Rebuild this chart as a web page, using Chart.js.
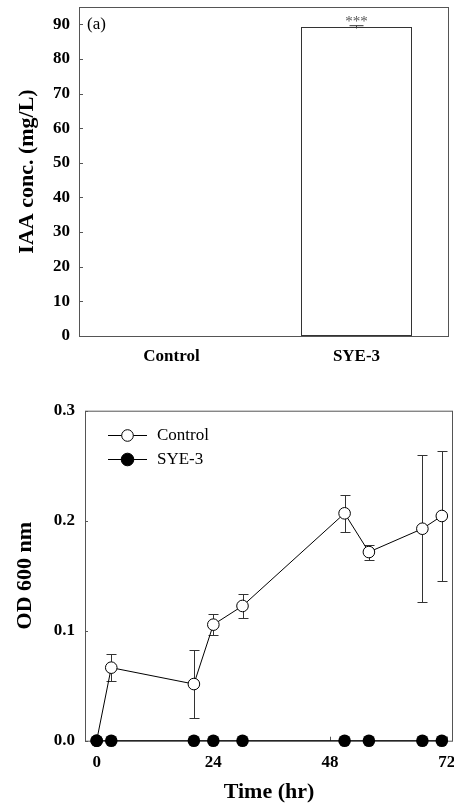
<!DOCTYPE html>
<html>
<head>
<meta charset="utf-8">
<script src="https://cdn.jsdelivr.net/npm/chart.js@4.4.0/dist/chart.umd.min.js"></script>
<style>
  body { margin: 0; background: #fff; }
  #wrapA { position: absolute; left: 0; top: 0; }
  #wrapB { position: absolute; left: 0; top: 390px; }
</style>
</head>
<body>
<div id="wrapA"><canvas id="iaaChart" width="454" height="390"></canvas></div>
<div id="wrapB"><canvas id="odChart" width="454" height="413"></canvas></div>
<script>
// (a) IAA production
const iaaCategories = ['Control', 'SYE-3'];
const iaaValues = [0, 89.2];
const iaaErrors = [0, 0.4];
const iaaYTicks = [0, 10, 20, 30, 40, 50, 60, 70, 80, 90];

// growth curve
const timeHours = [0, 3, 20, 24, 30, 51, 56, 67, 71];
const controlOD = [0, 0.0664, 0.0515, 0.1055, 0.1225, 0.2067, 0.1715, 0.1927, 0.2043];
const controlErr = [0, 0.0125, 0.031, 0.0098, 0.011, 0.017, 0.0068, 0.067, 0.0587];
const sye3OD = [0, 0, 0, 0, 0, 0, 0, 0, 0];
const timeTicks = [0, 24, 48, 72];
const odTicks = [0, 0.1, 0.2, 0.3];

const SERIF = "'Liberation Serif', 'Times New Roman', serif";
const tickFont = { family: SERIF, size: 17, weight: 'bold' };
const titleFont = { family: SERIF, size: 22, weight: 'bold' };
const AXIS = '#555';

// keep chart.js from reserving extra room for edge labels
function noEdgePad(s) {
    s.paddingLeft = 0; s.paddingRight = 0;
    s.paddingTop = 0; s.paddingBottom = 0;
}

function drawBox(chart) {
    const { ctx, chartArea: a } = chart;
    ctx.save();
    ctx.strokeStyle = AXIS;
    ctx.lineWidth = 1;
    ctx.strokeRect(a.left + 0.5, a.top + 0.5, a.right - a.left - 1, a.bottom - a.top);
    ctx.restore();
}

function drawInwardTicks(chart, axisId, values, len) {
    const { ctx, chartArea: a } = chart;
    const s = chart.scales[axisId];
    ctx.save();
    ctx.strokeStyle = AXIS;
    ctx.lineWidth = 1;
    ctx.beginPath();
    values.forEach(v => {
        const p = Math.round(s.getPixelForValue(v)) + 0.5;
        if (s.isHorizontal()) { ctx.moveTo(p, a.bottom); ctx.lineTo(p, a.bottom - len); }
        else { ctx.moveTo(a.left, p); ctx.lineTo(a.left + len, p); }
    });
    ctx.stroke();
    ctx.restore();
}

const iaaDecor = {
    id: 'iaaDecor',
    afterDatasetsDraw(chart) {
        const { ctx } = chart;
        const x = chart.scales.x, y = chart.scales.y;
        drawBox(chart);
        drawInwardTicks(chart, 'y', iaaYTicks, 4);
        ctx.save();
        // error bars + significance
        iaaValues.forEach((v, i) => {
            const e = iaaErrors[i];
            if (!e) return;
            const cx = x.getPixelForValue(i);
            const yt = y.getPixelForValue(v + e), yb = y.getPixelForValue(v - e);
            ctx.strokeStyle = '#333';
            ctx.lineWidth = 1;
            ctx.beginPath();
            ctx.moveTo(cx, yt); ctx.lineTo(cx, yb);
            ctx.moveTo(cx - 7, yt); ctx.lineTo(cx + 7, yt);
            ctx.stroke();
            ctx.fillStyle = '#555';
            ctx.font = '15px ' + SERIF;
            ctx.textAlign = 'center';
            ctx.textBaseline = 'alphabetic';
            ctx.fillText('***', cx, yt + 0.5);
        });
        ctx.fillStyle = '#000';
        ctx.font = '17px ' + SERIF;
        ctx.textAlign = 'left';
        ctx.textBaseline = 'middle';
        ctx.fillText('(a)', chart.chartArea.left + 8, y.getPixelForValue(90));
        ctx.restore();
    }
};

new Chart(document.getElementById('iaaChart'), {
    type: 'bar',
    data: {
        labels: iaaCategories,
        datasets: [{
            data: iaaValues,
            backgroundColor: '#fff',
            borderColor: '#333',
            borderWidth: 1,
            borderSkipped: false,
            barPercentage: 0.6,
            categoryPercentage: 1
        }]
    },
    options: {
        responsive: false,
        animation: false,
        layout: { autoPadding: false, padding: { top: 7, right: 5, left: 0, bottom: 0 } },
        plugins: { legend: { display: false }, tooltip: { enabled: false } },
        scales: {
            x: {
                offset: true,
                grid: { display: false, drawTicks: false },
                border: { display: false },
                ticks: { font: tickFont, color: '#000', padding: 10 },
                afterFit(s) { s.height = 54; noEdgePad(s); }
            },
            y: {
                min: 0, max: 95,
                grid: { display: false, drawTicks: false },
                border: { display: false },
                ticks: { font: tickFont, color: '#000', padding: 9 },
                afterBuildTicks(s) { s.ticks = iaaYTicks.map(v => ({ value: v })); },
                afterFit(s) { s.width = 79; noEdgePad(s); },
                title: { display: true, text: 'IAA conc. (mg/L)', font: titleFont, color: '#000', padding: { top: 14, bottom: 0 } }
            }
        }
    },
    plugins: [iaaDecor]
});

const odDecor = {
    id: 'odDecor',
    beforeDatasetsDraw(chart) {
        const { ctx } = chart;
        const x = chart.scales.x, y = chart.scales.y;
        drawBox(chart);
        drawInwardTicks(chart, 'x', timeTicks, 4);
        drawInwardTicks(chart, 'y', odTicks, 3);
        // error bars behind the markers
        ctx.save();
        ctx.strokeStyle = '#333';
        ctx.lineWidth = 1;
        ctx.beginPath();
        timeHours.forEach((t, i) => {
            const e = controlErr[i];
            if (!e) return;
            const cx = Math.round(x.getPixelForValue(t)) + 0.5;
            const yt = Math.round(y.getPixelForValue(controlOD[i] + e)) + 0.5;
            const yb = Math.round(y.getPixelForValue(controlOD[i] - e)) + 0.5;
            ctx.moveTo(cx, yt); ctx.lineTo(cx, yb);
            ctx.moveTo(cx - 5, yt); ctx.lineTo(cx + 5, yt);
            ctx.moveTo(cx - 5, yb); ctx.lineTo(cx + 5, yb);
        });
        ctx.stroke();
        ctx.restore();
    },
    afterDraw(chart) {
        const { ctx } = chart;
        const rows = [chart.data.datasets[0], chart.data.datasets[1]];
        ctx.save();
        rows.forEach((ds, i) => {
            const yy = 45 + i * 24;
            ctx.strokeStyle = '#000';
            ctx.lineWidth = 1;
            ctx.beginPath();
            ctx.moveTo(108, yy + 0.5); ctx.lineTo(147, yy + 0.5);
            ctx.stroke();
            ctx.beginPath();
            ctx.arc(127.5, yy + 0.5, ds.pointRadius, 0, Math.PI * 2);
            ctx.fillStyle = ds.pointBackgroundColor;
            ctx.fill();
            ctx.stroke();
            ctx.fillStyle = '#000';
            ctx.font = '17px ' + SERIF;
            ctx.textAlign = 'left';
            ctx.textBaseline = 'middle';
            ctx.fillText(ds.label, 157, yy + 1);
        });
        ctx.restore();
    }
};

new Chart(document.getElementById('odChart'), {
    type: 'line',
    data: {
        datasets: [
            {
                label: 'Control',
                data: timeHours.map((t, i) => ({ x: t, y: controlOD[i] })),
                borderColor: '#000', borderWidth: 1,
                pointRadius: 5.8, pointBorderWidth: 1,
                pointBackgroundColor: '#fff', pointBorderColor: '#000',
                order: 1
            },
            {
                label: 'SYE-3',
                data: timeHours.map((t, i) => ({ x: t, y: sye3OD[i] })),
                borderColor: '#000', borderWidth: 1,
                pointRadius: 6.3, pointBorderWidth: 0,
                pointBackgroundColor: '#000', pointBorderColor: '#000',
                order: 0
            }
        ]
    },
    options: {
        responsive: false,
        animation: false,
        clip: false,
        layout: { autoPadding: false, padding: { top: 20.7, right: 1, left: 0, bottom: 0 } },
        plugins: { legend: { display: false }, tooltip: { enabled: false } },
        scales: {
            x: {
                type: 'linear',
                min: -2.4, max: 73.3,
                grid: { display: false, drawTicks: false },
                border: { display: false },
                ticks: { font: tickFont, color: '#000', padding: 12 },
                afterBuildTicks(s) { s.ticks = timeTicks.map(v => ({ value: v })); },
                afterFit(s) { s.height = 62.3; noEdgePad(s); },
                title: { display: true, text: 'Time (hr)', font: Object.assign({}, titleFont, { lineHeight: 1 }), color: '#000', padding: 0 }
            },
            y: {
                min: 0, max: 0.3,
                grid: { display: false, drawTicks: false },
                border: { display: false },
                ticks: { font: tickFont, color: '#000', padding: 10, callback: v => v.toFixed(1) },
                afterBuildTicks(s) { s.ticks = odTicks.map(v => ({ value: v })); },
                afterFit(s) { s.width = 85; noEdgePad(s); },
                title: { display: true, text: 'OD 600 nm', font: titleFont, color: '#000', padding: { top: 12, bottom: 0 } }
            }
        }
    },
    plugins: [odDecor]
});
</script>
</body>
</html>
